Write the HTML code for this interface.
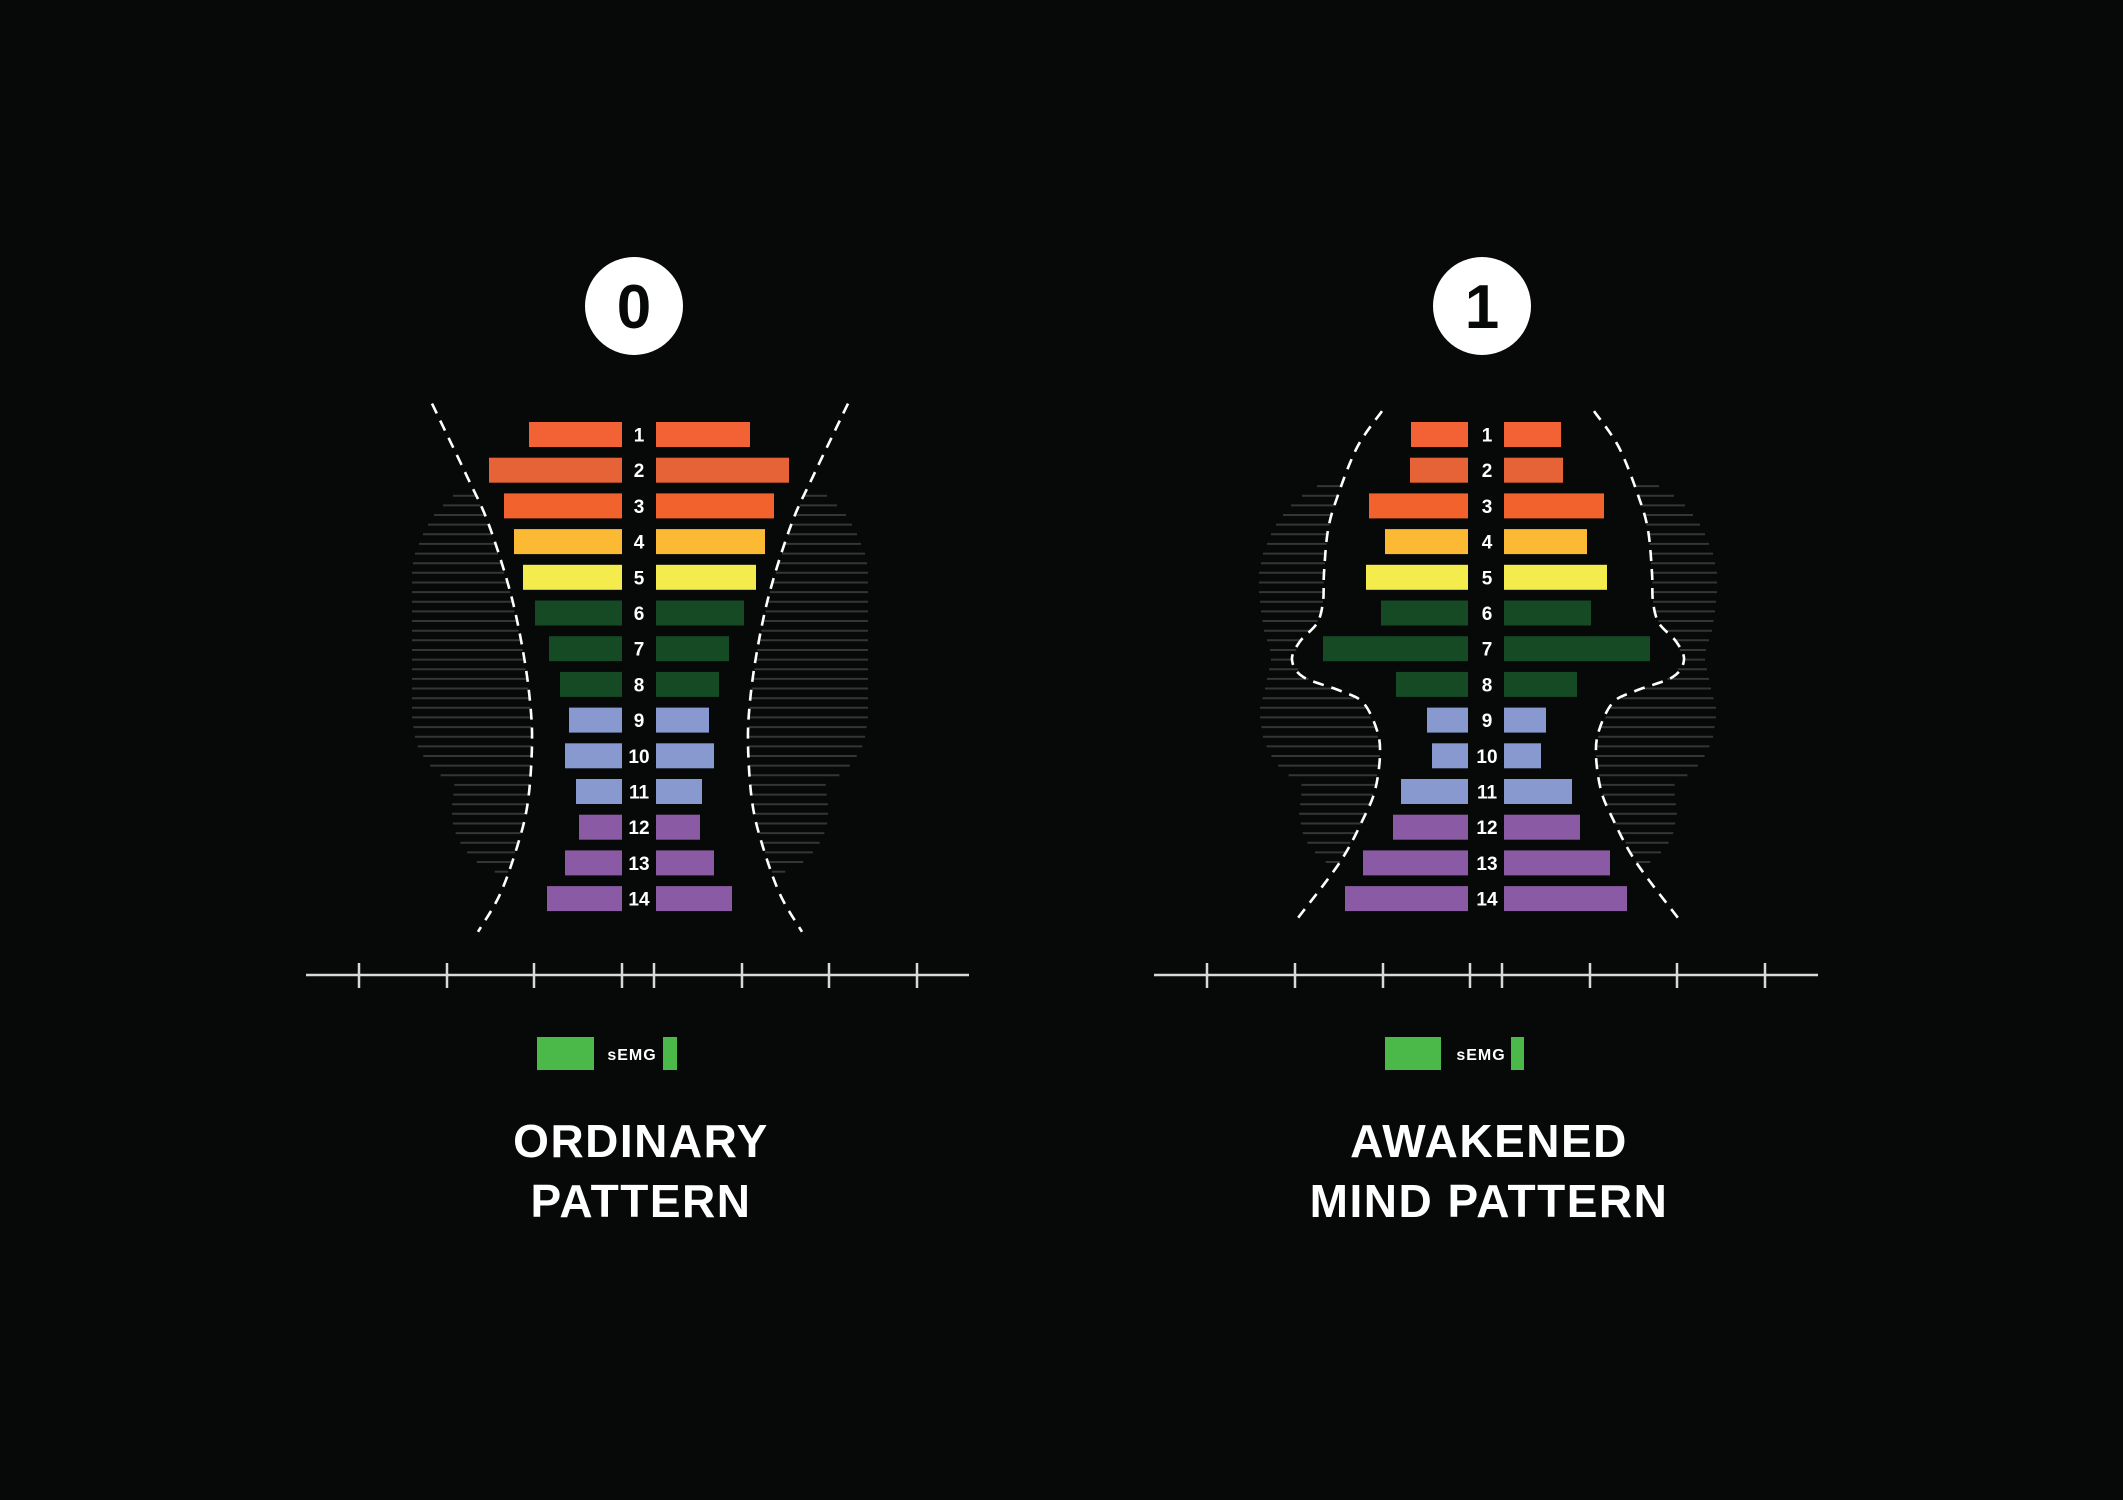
<!DOCTYPE html>
<html><head><meta charset="utf-8">
<style>
html,body{margin:0;padding:0;background:#070808;}
svg{display:block;}
text{font-family:"Liberation Sans",sans-serif;font-weight:bold;}
</style></head>
<body>
<svg id="s" width="2123" height="1500" viewBox="0 0 2123 1500" xmlns="http://www.w3.org/2000/svg">
<rect width="2123" height="1500" fill="#070808"/>
<g id="hatch" stroke="#353535" stroke-width="2"></g>
<g id="bars"></g>
<g id="curves" fill="none" stroke="#fff" stroke-width="2.6" stroke-dasharray="11 8"></g>
<g id="nums" fill="#fff" font-size="19" text-anchor="middle"></g>

<circle cx="634" cy="306" r="49" fill="#fff"/>
<text x="634" y="328" font-size="62" text-anchor="middle" fill="#070808">0</text>
<circle cx="1482" cy="306" r="49" fill="#fff"/>
<text x="1482" y="328" font-size="62" text-anchor="middle" fill="#070808">1</text>

<g stroke="#d9d9d9" stroke-width="2.5">
<line x1="306" y1="975" x2="969" y2="975"/>
<line x1="1154" y1="975" x2="1818" y2="975"/>
<path d="M359 963V988M447 963V988M534 963V988M622 963V988M654 963V988M742 963V988M829 963V988M917 963V988"/>
<path d="M1207 963V988M1295 963V988M1383 963V988M1470 963V988M1502 963V988M1590 963V988M1677 963V988M1765 963V988"/>
</g>

<rect x="537" y="1037" width="57" height="33" fill="#4bb84a"/>
<text x="632" y="1060" font-size="16" fill="#fff" text-anchor="middle" letter-spacing="1">sEMG</text>
<rect x="663" y="1037" width="14" height="33" fill="#4bb84a"/>
<rect x="1385" y="1037" width="56" height="33" fill="#4bb84a"/>
<text x="1481" y="1060" font-size="16" fill="#fff" text-anchor="middle" letter-spacing="1">sEMG</text>
<rect x="1511" y="1037" width="13" height="33" fill="#4bb84a"/>

<g fill="#fff" font-size="46" text-anchor="middle" letter-spacing="1.5">
<text x="641" y="1157">ORDINARY</text>
<text x="641" y="1217">PATTERN</text>
<text x="1489" y="1157">AWAKENED</text>
<text x="1489" y="1217">MIND PATTERN</text>
</g>
</svg>
<script>
var NS="http://www.w3.org/2000/svg";
function T(y){return 380+(y-380)*15/14;}
function el(p,tag,a,txt){var e=document.createElementNS(NS,tag);for(var k in a)e.setAttribute(k,a[k]);if(txt!==undefined)e.textContent=txt;document.getElementById(p).appendChild(e);return e;}
var cols=["#f26234","#e66338","#f2622c","#fbb934","#f4ec4d","#154a24","#154a24","#154a24","#8799cf","#8799cf","#8799cf","#8a5aa5","#8a5aa5","#8a5aa5"];
var P=[
 {cx:639,lr:622,rl:656,L:[529,489,504,514,523,535,549,560,569,565,576,579,565,547],R:[750,789,774,765,756,744,729,719,709,714,702,700,714,732],
  sym:640,
  curve:[[432,402],[467,470],[488,513],[510,577],[523,633],[530,680],[532,720],[528,773],[518,813],[500,860],[478,895]],
  outer:[[479,470],[488,453],[497,443],[506,434],[515,428],[524,423],[533,419],[542,415],[551,413],[560,412],[687,412],[696,412],[713,415],[723,418],[732,424],[741,431],[750,442],[759,456],[768,453],[777,452],[786,452],[795,453],[804,456],[813,461],[822,468],[831,478],[840,497]],
  y0:479,y1:840},
 {cx:1487,lr:1468,rl:1504,L:[1411,1410,1369,1385,1366,1381,1323,1396,1427,1432,1401,1393,1363,1345],R:[1561,1563,1604,1587,1607,1591,1650,1577,1546,1541,1572,1580,1610,1627],
  sym:1488,
  curve:[[1382,409],[1357,443],[1337,490],[1328,520],[1324,560],[1323,587],[1317,607],[1300,624],[1292,641],[1303,657],[1340,670],[1363,681],[1377,707],[1380,730],[1375,763],[1363,790],[1340,830],[1298,882]],
  outer:[[479,1317],[488,1302],[497,1291],[506,1283],[515,1276],[524,1271],[533,1267],[542,1263],[551,1261],[560,1259],[578,1259],[596,1261],[614,1264],[632,1270],[641,1271],[650,1269],[668,1265],[686,1260],[695,1260],[713,1263],[723,1267],[732,1272],[741,1279],[750,1290],[759,1303],[768,1301],[786,1299],[795,1301],[804,1303],[813,1308],[822,1316],[831,1327]],
  y0:479,y1:831}
];
P.forEach(function(p){
 p.curve=p.curve.map(function(c){return [c[0],+T(c[1]).toFixed(1)];});
 p.outer=p.outer.map(function(c){return [T(c[0]),c[1]];});
 p.y0=T(p.y0);p.y1=T(p.y1);
});
function interp(tab,y,ki,vi){for(var i=0;i<tab.length-1;i++){var a=tab[i],b=tab[i+1];if(y>=a[ki]&&y<=b[ki]){var t=(y-a[ki])/((b[ki]-a[ki])||1);return a[vi]+t*(b[vi]-a[vi]);}}return y<tab[0][ki]?tab[0][vi]:tab[tab.length-1][vi];}
function smooth(pts){var d="M"+pts[0][0]+","+pts[0][1];for(var i=0;i<pts.length-1;i++){var p0=pts[i-1]||pts[i],p1=pts[i],p2=pts[i+1],p3=pts[i+2]||p2;var c1=[p1[0]+(p2[0]-p0[0])/6,p1[1]+(p2[1]-p0[1])/6],c2=[p2[0]-(p3[0]-p1[0])/6,p2[1]-(p3[1]-p1[1])/6];d+=" C"+c1[0].toFixed(1)+","+c1[1].toFixed(1)+" "+c2[0].toFixed(1)+","+c2[1].toFixed(1)+" "+p2[0]+","+p2[1];}return d;}
P.forEach(function(p){
 for(var i=0;i<14;i++){var top=422+i*35.7;
  el("bars","rect",{x:p.L[i],y:top.toFixed(1),width:p.lr-p.L[i],height:25,fill:cols[i]});
  el("bars","rect",{x:p.rl,y:top.toFixed(1),width:p.R[i]-p.rl,height:25,fill:cols[i]});
  el("nums","text",{x:p.cx,y:(top+19.5).toFixed(1)},String(i+1));
 }
 var curveXY=p.curve.map(function(c){return [c[1],c[0]];});
 for(var y=p.y0;y<=p.y1+0.5;y+=9.64){
  var ox=interp(p.outer,y,0,1), ix=interp(curveXY,y,0,1);
  if(ix-ox>2){
   el("hatch","line",{x1:ox,y1:y.toFixed(1),x2:ix,y2:y.toFixed(1)});
   el("hatch","line",{x1:2*p.sym-ix,y1:y.toFixed(1),x2:2*p.sym-ox,y2:y.toFixed(1)});
  }
 }
 el("curves","path",{d:smooth(p.curve)});
 el("curves","path",{d:smooth(p.curve.map(function(c){return [2*p.sym-c[0],c[1]];}))});
});
</script>
</body></html>
